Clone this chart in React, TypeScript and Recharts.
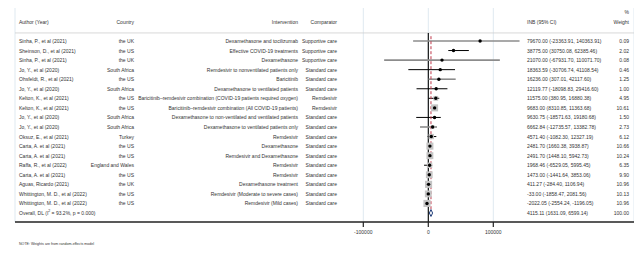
import React from 'react';
import { ScatterChart, Scatter, XAxis, YAxis, CartesianGrid, ReferenceLine, ErrorBar } from 'recharts';

const authors = [
  'Sinha, P., et al (2021)',
  'Sheinson, D., et al  (2021)',
  'Sinha, P., et al (2021)',
  'Jo, Y., et al (2020)',
  'Ohsfeldt, R., et al (2021)',
  'Jo, Y., et al (2020)',
  'Kelton, K., et al (2021)',
  'Kelton, K., et al (2021)',
  'Jo, Y., et al (2020)',
  'Jo, Y., et al (2020)',
  'Oksuz, E., et al (2021)',
  'Carta, A. et al (2021)',
  'Carta, A. et al (2021)',
  'Raffa, R., et al (2022)',
  'Carta, A. et al (2021)',
  'Aguas, Ricardo (2021)',
  'Whittington, M. D., et al (2022)',
  'Whittington, M. D., et al (2022)',
];

const countries = [
  'the UK', 'the US', 'the UK', 'South Africa', 'the US', 'South Africa', 'the US', 'the US',
  'South Africa', 'South Africa', 'Turkey', 'the US', 'the US', 'England and Wales', 'the US',
  'the UK', 'the US', 'the US',
];

const interventions = [
  'Dexamethasone and tocilizumab',
  'Effective COVID-19 treatments',
  'Dexamethasone',
  'Remdesivir to nonventilated patients only',
  'Baricitinib',
  'Dexamethasone to ventilated patients',
  'Baricitinib–remdesivir combination (COVID-19 patients required oxygen)',
  'Baricitinib–remdesivir combination (All COVID-19 patients)',
  'Dexamethasone to non-ventilated and ventilated patients',
  'Dexamethasone to ventilated patients only',
  'Remdesivir',
  'Dexamethasone',
  'Remdesivir and Dexamethasone',
  'Remdesivir',
  'Remdesivir',
  'Dexamethasone treatment',
  'Remdesivir (Moderate to severe cases)',
  'Remdesivir (Mild cases)',
];

const comparators = [
  'Supportive care', 'Supportive care', 'Supportive care', 'Standard care', 'Standard care',
  'Standard care', 'Remdesivir', 'Remdesivir', 'Standard care', 'Standard care', 'Standard care',
  'Standard care', 'Standard care', 'Standard care', 'Standard care', 'Standard care',
  'Standard care', 'Standard care',
];

const inb = [
  79670.0, 38775.0, 21070.0, 18363.59, 16236.0, 12119.77, 11575.0, 9683.0, 9630.75,
  6662.84, 4571.4, 2481.7, 2491.7, 1968.46, 1473.0, 411.27, -33.0, -2022.05,
];
const ciLow = [
  -23363.91, 30750.08, -67931.7, -30706.74, 307.01, -18098.83, 380.95, 8310.85, -18571.63,
  -12735.57, -1082.3, 1660.38, 1448.1, -6529.05, -1441.64, -284.4, -1858.47, -2554.24,
];
const ciHigh = [
  140363.91, 62385.46, 110071.7, 41108.54, 42117.6, 29416.6, 16880.38, 11363.68, 19180.68,
  13382.78, 12327.19, 3938.87, 5942.73, 5995.45, 3853.06, 1106.94, 2081.56, -1196.05,
];
const weights = [
  0.09, 2.02, 0.08, 0.46, 1.25, 1.0, 4.95, 10.61, 1.5, 2.73, 6.12, 10.66, 10.24, 6.35, 9.9,
  10.96, 10.13, 10.96,
];

const overallEst = 4115.11;
const overallLow = 1631.09;
const overallHigh = 6599.14;
const overallWeight = 100.0;

const xTicks = [-100000, 0, 100000];

const FONT = '"Liberation Sans", Arial, sans-serif';
const TXT = '#333';
const greyRows = new Set([0, 2, 4, 9]);

const fmt = (v: number) => v.toFixed(2);

const studies = authors.map((author, i) => ({
  author,
  country: countries[i],
  intervention: interventions[i],
  comparator: comparators[i],
  x: inb[i],
  y: i + 1,
  err: [inb[i] - ciLow[i], ciHigh[i] - inb[i]],
  weight: weights[i],
  ci: `${fmt(inb[i])} (${fmt(ciLow[i])}, ${fmt(ciHigh[i])})`,
  w: fmt(weights[i]),
  grey: greyRows.has(i),
}));

const overallRow = [{
  author: 'Overall',
  x: overallEst,
  y: authors.length + 1,
  ci: `${fmt(overallEst)} (${fmt(overallLow)}, ${fmt(overallHigh)})`,
  w: fmt(overallWeight),
}];

const rowY = authors.length + 1;
const diamond = [
  { x: overallLow, y: rowY },
  { x: overallEst, y: rowY - 0.36 },
  { x: overallHigh, y: rowY },
  { x: overallEst, y: rowY + 0.36 },
  { x: overallLow, y: rowY },
];

const headerRows = [
  { x: 0, y: -2, w: '%' },
  {
    x: 0, y: -1, author: 'Author (Year)', country: 'Country', intervention: 'Intervention',
    comparator: 'Comparator', ci: 'INB (95% CI)', w: 'Weight',
  },
];

const RowText = ({ cy, p, overall }: any) => (
  <g fontFamily={FONT} fontSize={5} fill={TXT}>
    {p.author && (
      <text x={19} y={cy} dominantBaseline="central">
        {overall ? (
          <>
            Overall, DL (I<tspan fontSize={3.5} dy={-1.6}>2</tspan>
            <tspan dy={1.6}> = 93.2%, p = 0.000)</tspan>
          </>
        ) : p.author}
      </text>
    )}
    {p.country && <text x={134} y={cy} textAnchor="end" dominantBaseline="central">{p.country}</text>}
    {p.intervention && <text x={298} y={cy} textAnchor="end" dominantBaseline="central">{p.intervention}</text>}
    {p.comparator && <text x={337} y={cy} textAnchor="end" dominantBaseline="central">{p.comparator}</text>}
    {p.ci && <text x={527} y={cy} dominantBaseline="central">{p.ci}</text>}
    {p.w && <text x={629} y={cy} textAnchor="end" dominantBaseline="central">{p.w}</text>}
  </g>
);

const StudyShape = (props: any) => {
  const { cx, cy, payload } = props;
  const s = 2.15 * Math.sqrt(payload.weight);
  return (
    <g>
      <RowText cy={cy} p={payload} />
      <rect x={cx - s / 2} y={cy - s / 2} width={s} height={s} fill="#c4c4c4" />
      <circle cx={cx} cy={cy} r={1.7} fill="#000" />
    </g>
  );
};

const OverallShape = (props: any) => <RowText cy={props.cy} p={props.payload} overall />;
const HeaderShape = (props: any) => <RowText cy={props.cy} p={props.payload} />;
const NoShape = () => <g />;

export default function App() {
  const black = studies.filter((d) => !d.grey);
  const grey = studies.filter((d) => d.grey);
  return (
    <div style={{ position: 'absolute', left: 0, top: 0, width: 634, height: 254, background: '#fff' }}>
      <ScatterChart width={634} height={254} margin={{ top: 8, right: 0, bottom: 2, left: 15 }}>
        <CartesianGrid vertical horizontal={false} stroke="#dbe6ee" strokeWidth={0.9} />
        <XAxis
          type="number"
          dataKey="x"
          domain={[-635850, 316460]}
          ticks={xTicks}
          interval={0}
          height={30}
          tickSize={5}
          tickMargin={3}
          axisLine={{ stroke: '#222', strokeWidth: 1.6 }}
          tickLine={{ stroke: '#222', strokeWidth: 1.2 }}
          tick={{ fontSize: 5, fill: TXT, fontFamily: FONT }}
        />
        <YAxis type="number" dataKey="y" hide reversed domain={[-2.45, 19.94]} />
        <ReferenceLine y={0.16} stroke="#cfcfcf" strokeWidth={0.8} />
        <ReferenceLine segment={[{ x: 0, y: 0.16 }, { x: 0, y: 19.94 }]} stroke="#000" strokeWidth={1.1} />
        <Scatter data={headerRows} shape={HeaderShape} isAnimationActive={false} />
        <Scatter data={grey} shape={StudyShape} isAnimationActive={false}>
          <ErrorBar dataKey="err" direction="x" width={0} stroke="#8c8c8c" strokeWidth={1.6} />
        </Scatter>
        <Scatter data={black} shape={StudyShape} isAnimationActive={false}>
          <ErrorBar dataKey="err" direction="x" width={0} stroke="#000" strokeWidth={1} />
        </Scatter>
        <ReferenceLine
          segment={[{ x: overallEst, y: 0.5 }, { x: overallEst, y: 18.8 }]}
          stroke="#c0394b"
          strokeWidth={1}
          strokeDasharray="3 2"
        />
        <Scatter data={overallRow} shape={OverallShape} isAnimationActive={false} />
        <Scatter data={diamond} line={{ stroke: '#1f3c78', strokeWidth: 1 }} lineType="joint" shape={NoShape} isAnimationActive={false} />
      </ScatterChart>
      <div style={{ position: 'absolute', left: 19, top: 242, fontFamily: FONT, fontSize: 3.6, color: TXT, lineHeight: '5px', whiteSpace: 'nowrap' }}>
        NOTE: Weights are from random-effects model
      </div>
    </div>
  );
}
